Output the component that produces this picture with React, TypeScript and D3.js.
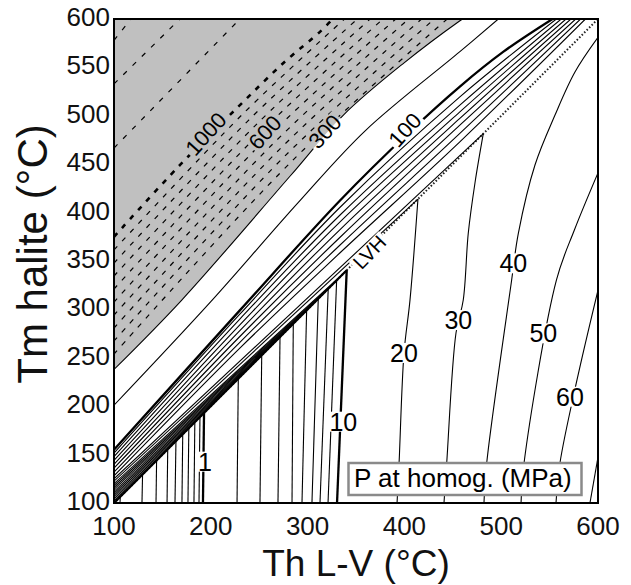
import React from 'react';
import * as d3 from 'd3';

type Pt = [number, number];

// ---- axes ----
const X_TICKS = [100, 200, 300, 400, 500, 600];
const Y_TICKS = [100, 150, 200, 250, 300, 350, 400, 450, 500, 550, 600];

// ---- isobars below LVH (near-vertical), MPa ----
const LOW_P = [0.1, 0.2, 0.3, 0.4, 0.5, 0.6, 0.7, 0.8, 0.9, 1, 2, 3, 4, 5, 6, 7, 8, 9, 10];
const LOW_BASE_TH = [106.2, 128.9, 143.4, 154.8, 163, 170.2, 176.4, 182.6, 187.8, 191.9, 227.1, 250.8, 269.4, 283.9, 294.2, 304.5, 312.8, 321.1, 330.4];
const LOW_LVH_TH = [106.5, 129.5, 144, 155.5, 164, 171, 177.3, 183.5, 188.8, 193, 228.4, 252.6, 271.5, 285.2, 299, 311, 321.3, 330, 340.4];

// curved isobars below LVH
const ISO_20: Pt[] = [[392.4, 100], [394.5, 141.3], [399.6, 255], [405.8, 309.8], [414, 414]];
const ISO_30: Pt[] = [[440.9, 100], [443.7, 141.3], [453.3, 275.6], [460.8, 309.7], [466, 378.9], [472.9, 430.6], [481.5, 481.5]];
const ISO_40: Pt[] = [[482.2, 100], [485, 141], [510.8, 330.4], [517.7, 378.6], [534.9, 449.2], [555.6, 500.8], [576.2, 545.2], [600, 581]];
const ISO_50: Pt[] = [[520.5, 100], [523.6, 141.3], [557.1, 330.4], [575.6, 382], [600, 441]];
const ISO_60: Pt[] = [[556.6, 100], [560.7, 141.3], [578.3, 227.1], [600, 320]];
const ISO_70: Pt[] = [[591.7, 100], [600, 147.5]];

// ---- isobars above LVH converging into LVH (1..10, 20, 30 MPa) ----
const MERGE_P = [1, 2, 3, 4, 5, 6, 7, 8, 9, 10, 20, 30];
const MERGE_LEFT_TM = [102, 104, 106, 108, 110, 112, 114, 116, 118, 120, 122.5, 125];
const MERGE_LVH_TH = [193, 228.4, 252.6, 271.5, 285.2, 299, 311, 321.3, 330, 340.4, 414, 481.5];

// ---- band isobars reaching the top edge ----
const BAND_1: Pt[] = [[100, 128], [230, 260], [333, 358], [457, 472.8], [587, 600]];
const BAND_2: Pt[] = [[100, 132], [230, 266], [333, 366], [457, 481.5], [582, 600]];
const BAND_3: Pt[] = [[100, 136], [230, 272], [333, 374], [457, 490.1], [577, 600]];
const BAND_4: Pt[] = [[100, 140], [230, 278], [333, 382], [457, 497], [572, 600]];
const BAND_5: Pt[] = [[100, 144], [230, 284], [333, 390], [457, 503.8], [567, 600]];
const BAND_6: Pt[] = [[100, 148], [230, 290], [333, 397], [457, 510.8], [562, 600]];
const BAND_7: Pt[] = [[100, 151.5], [230, 295], [333, 405], [457, 519.3], [557, 600]];
const ISO_100: Pt[] = [[100, 155], [230, 299], [333, 412], [406, 484], [457, 530], [502, 566], [553, 600]];
const ISO_200: Pt[] = [[100, 201], [200, 308], [290, 410], [360, 485], [457, 566], [497, 600]];
const ISO_300: Pt[] = [[100, 238], [170, 309.7], [282, 437.8], [337, 500.8], [400, 555], [457, 598], [460, 600]];

// ---- dashed isobars in the shaded field ----
const DASH_MID: Pt[][] = [
  [[100, 361.4], [233, 501.8], [338.1, 600]],
  [[100, 347.9], [239.2, 495.6], [351.4, 600]],
  [[100, 334.5], [245.4, 489.4], [364.6, 600]],
  [[100, 321.1], [251.6, 483.2], [377.9, 600]],
  [[100, 307.6], [257.8, 477], [391.1, 600]],
  [[100, 294.2], [264, 470.8], [404.4, 600]],
  [[100, 280.8], [270.3, 464.6], [417.7, 600]],
  [[100, 267.4], [276.5, 458.4], [430.9, 600]],
  [[100, 253.9], [282.7, 452.1], [444.2, 600]],
];
const ISO_1000: Pt[] = [[100, 375], [168, 449], [227, 508], [275, 554.5], [313, 587], [326, 600]];
const DASH_HIGH: Pt[][] = [
  [[100, 466.7], [230, 600]],
  [[100, 533], [168, 600]],
  [[100, 578], [117.6, 600]],
];

// LVH curve
const LVH: Pt[] = [[100, 100], [600, 600]];

// ---- contour labels ----
const FLAT_LABELS = ['1', '10', '20', '30', '40', '50', '60'];
const FLAT_TH = [194, 336.9, 399.6, 455.7, 512.5, 543.5, 571.1];
const FLAT_TM = [142.7, 184, 255, 289, 347.6, 275.3, 209.8];
const TILT_LABELS = ['1000', '600', '300', '100', 'LVH'];
const TILT_TH = [195, 256, 318, 400.6, 364];
const TILT_TM = [481.2, 482.7, 483.6, 485.3, 359];
const TILT_ANGLE = [-48, -48, -48, -48, -46];

const LEGEND_TEXT = 'P at homog. (MPa)';
const FONT = '"Liberation Sans", Arial, Helvetica, sans-serif';

export default function App() {
  const L = 114, R = 598, T = 19, B = 503;
  const x = d3.scaleLinear().domain([100, 600]).range([L, R]);
  const y = d3.scaleLinear().domain([100, 600]).range([B, T]);
  const line = d3.line<Pt>().x(d => x(d[0])).y(d => y(d[1])).curve(d3.curveCatmullRom.alpha(0.5));

  const grayArea = line([...ISO_300, [100, 600] as Pt, [100, 238] as Pt]) + 'Z';

  const flatFs = 25, tiltFs = 22;
  const textW = (s: string, fs: number) => {
    let w = 0;
    for (const c of s) w += c === 'L' ? 0.556 : c === 'V' ? 0.667 : c === 'H' ? 0.722 : 0.556;
    return w * fs;
  };

  const thin = 1.1, thick = 2.3;

  return (
    <svg width={631} height={585} style={{ position: 'absolute', left: 0, top: 0, background: '#fff' }}
      fontFamily={FONT}>
      <defs>
        <clipPath id="plotClip">
          <rect x={L} y={T} width={R - L} height={B - T} />
        </clipPath>
        <mask id="labelMask" maskUnits="userSpaceOnUse" x={0} y={0} width={631} height={585}>
          <rect x={0} y={0} width={631} height={585} fill="#fff" />
          {FLAT_LABELS.map((s, i) => {
            const w = textW(s, flatFs) + 4, h = flatFs * 0.8;
            return <rect key={'fm' + i} x={x(FLAT_TH[i]) - w / 2} y={y(FLAT_TM[i]) - h / 2} width={w} height={h} fill="#000" />;
          })}
          {TILT_LABELS.map((s, i) => {
            const fs = s === 'LVH' ? 20 : tiltFs;
            const w = textW(s, fs) + 4, h = fs * 0.8;
            return (
              <rect key={'tm' + i} x={-w / 2} y={-h / 2} width={w} height={h} fill="#000"
                transform={`translate(${x(TILT_TH[i])},${y(TILT_TM[i])}) rotate(${TILT_ANGLE[i]})`} />
            );
          })}
        </mask>
      </defs>

      <g clipPath="url(#plotClip)">
        <path d={grayArea} fill="#c0c0c0" stroke="none" />
        <g mask="url(#labelMask)" fill="none" stroke="#000" strokeLinejoin="round">
          {/* LVH */}
          <path d={line(LVH) ?? ''} strokeWidth={2} strokeDasharray="1.5,2" stroke="#222" />
          <path d={line([LVH[0], [LOW_LVH_TH[LOW_LVH_TH.length - 1], LOW_LVH_TH[LOW_LVH_TH.length - 1]]]) ?? ''} strokeWidth={2.2} />
          {/* low isobars */}
          {LOW_P.map((p, i) => (
            <path key={'lo' + i} d={line([[LOW_BASE_TH[i], 100], [LOW_LVH_TH[i], LOW_LVH_TH[i]]]) ?? ''}
              strokeWidth={p === 1 || p === 10 ? thick : thin} />
          ))}
          {[ISO_20, ISO_30, ISO_40, ISO_50, ISO_60, ISO_70].map((pts, i) => (
            <path key={'iso' + i} d={line(pts) ?? ''} strokeWidth={thin} />
          ))}
          {MERGE_P.map((p, i) => (
            <path key={'mg' + i} d={line([[100, MERGE_LEFT_TM[i]], [MERGE_LVH_TH[i], MERGE_LVH_TH[i]]]) ?? ''}
              strokeWidth={thin} />
          ))}
          {[BAND_1, BAND_2, BAND_3, BAND_4, BAND_5, BAND_6, BAND_7].map((pts, i) => (
            <path key={'bd' + i} d={line(pts) ?? ''} strokeWidth={thin} />
          ))}
          <path d={line(ISO_100) ?? ''} strokeWidth={thick} />
          <path d={line(ISO_200) ?? ''} strokeWidth={thin} />
          <path d={line(ISO_300) ?? ''} strokeWidth={thin} />
          {DASH_MID.map((pts, i) => (
            <path key={'dm' + i} d={line(pts) ?? ''} strokeWidth={1.2} strokeDasharray="5,7" />
          ))}
          <path d={line(ISO_1000) ?? ''} strokeWidth={2.6} strokeDasharray="5,7" />
          {DASH_HIGH.map((pts, i) => (
            <path key={'dh' + i} d={line(pts) ?? ''} strokeWidth={1.2} strokeDasharray="5,8" />
          ))}
        </g>
        {/* labels */}
        {FLAT_LABELS.map((s, i) => (
          <text key={'fl' + i} x={x(FLAT_TH[i])} y={y(FLAT_TM[i])} fontSize={flatFs} textAnchor="middle"
            dominantBaseline="central" fill="#000">{s}</text>
        ))}
        {TILT_LABELS.map((s, i) => (
          <text key={'tl' + i} fontSize={s === 'LVH' ? 20 : tiltFs} textAnchor="middle" dominantBaseline="central" fill="#000"
            transform={`translate(${x(TILT_TH[i])},${y(TILT_TM[i])}) rotate(${TILT_ANGLE[i]})`}>{s}</text>
        ))}
      </g>

      {/* legend */}
      <rect x={348.5} y={463} width={233} height={32} fill="#fff" stroke="#8a8a8a" strokeWidth={2.5} />
      <text x={354} y={487} fontSize={26} fill="#000">{LEGEND_TEXT}</text>

      {/* frame */}
      <rect x={L} y={T} width={R - L} height={B - T} fill="none" stroke="#000" strokeWidth={2} />

      {/* ticks labels */}
      {X_TICKS.map(t => (
        <text key={'xt' + t} x={x(t)} y={535} fontSize={26} textAnchor="middle" fill="#111">{t}</text>
      ))}
      {Y_TICKS.map(t => (
        <text key={'yt' + t} x={110} y={y(t) - 2} fontSize={26} textAnchor="end" dominantBaseline="central" fill="#111">{t}</text>
      ))}

      {/* axis titles */}
      <text x={(L + R) / 2} y={576} fontSize={37} textAnchor="middle" fill="#111">Th L-V (°C)</text>
      <text transform={`translate(47,254) rotate(-90)`} fontSize={42} textAnchor="middle" fill="#111">Tm halite (°C)</text>
    </svg>
  );
}
